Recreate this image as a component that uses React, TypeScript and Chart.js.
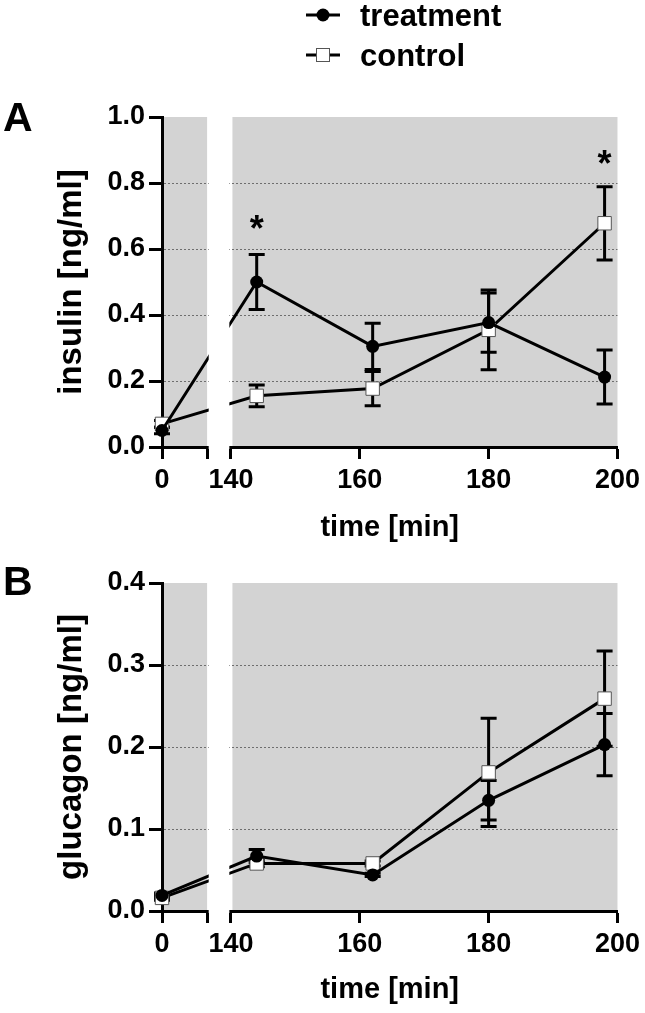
import React, { useEffect, useRef } from 'react';
import { Chart, registerables } from 'chart.js';

Chart.register(...registerables);

// ---------- data ----------
const times = [0, 144, 162, 180, 198];

const insulinTreatment = [0.05, 0.5, 0.305, 0.377, 0.212];
const insulinTreatmentSem = [0.01, 0.083, 0.07, 0.09, 0.082];
const insulinControl = [0.07, 0.155, 0.177, 0.355, 0.678];
const insulinControlSem = [0.01, 0.033, 0.052, 0.121, 0.111];
const insulinStarTimes = [144, 198];
const insulinStarValues = [0.688, 0.885];
const insulinTicks = [0, 0.2, 0.4, 0.6, 0.8, 1.0];

const glucagonTreatment = [0.019, 0.067, 0.044, 0.135, 0.203];
const glucagonTreatmentSem = [0.003, 0.008, 0.002, 0.024, 0.038];
const glucagonControl = [0.016, 0.058, 0.058, 0.169, 0.259];
const glucagonControlSem = [0.003, 0.004, 0.003, 0.066, 0.058];
const glucagonStarTimes: number[] = [];
const glucagonStarValues: number[] = [];
const glucagonTicks = [0, 0.1, 0.2, 0.3, 0.4];

const xTickTimes = [0, 140, 160, 180, 200];
const seriesNames = ['treatment', 'control'];

// ---------- broken axis ----------
const SEG1_END = 7; // first segment covers 0..7 min
const SEG2_START = 140;
const SEG2_END = 200;
const GAP = 3.7;
const toAxis = (t: number) => (t <= SEG1_END ? t : SEG1_END + GAP + (t - SEG2_START));

const FONT = "'Liberation Sans', Arial, Helvetica, sans-serif";
const GREY = '#d3d3d3';

function makeChart(
  canvas: HTMLCanvasElement,
  cfg: {
    height: number;
    top: number;
    bottom: number;
    right: number;
    yMax: number;
    yTicks: number[];
    yTitle: string;
    treat: number[];
    treatSem: number[];
    ctrl: number[];
    ctrlSem: number[];
    starTimes: number[];
    starValues: number[];
    letter: string;
    letterY: number;
    legend: boolean;
    xTitlePad: number;
  }
) {
  const xTickPositions = [toAxis(0), SEG1_END, ...xTickTimes.slice(1).map(toAxis)];
  const xTickLabels = ['0', '', ...xTickTimes.slice(1).map(String)];

  const errorBars = {
    id: 'errorBars',
    beforeDatasetsDraw(chart: any) {
      const ctx = chart.ctx;
      const ys = chart.scales.y;
      ctx.save();
      ctx.strokeStyle = '#000';
      ctx.lineWidth = 3;
      chart.data.datasets.forEach((ds: any, di: number) => {
        const meta = chart.getDatasetMeta(di);
        ds.sem.forEach((s: number, i: number) => {
          const v = ds.data[i].y;
          const px = meta.data[i].x;
          const yTop = ys.getPixelForValue(v + s);
          const yBot = ys.getPixelForValue(v - s);
          ctx.beginPath();
          ctx.moveTo(px, yTop);
          ctx.lineTo(px, yBot);
          ctx.moveTo(px - 8, yTop);
          ctx.lineTo(px + 8, yTop);
          ctx.moveTo(px - 8, yBot);
          ctx.lineTo(px + 8, yBot);
          ctx.stroke();
        });
      });
      ctx.restore();
    },
  };

  const background = {
    id: 'bg',
    beforeDraw(chart: any) {
      const { ctx, chartArea } = chart;
      const xs = chart.scales.x;
      ctx.save();
      ctx.fillStyle = GREY;
      const a0 = xs.getPixelForValue(0);
      const a1 = xs.getPixelForValue(SEG1_END);
      const b0 = xs.getPixelForValue(toAxis(SEG2_START));
      ctx.fillRect(a0, chartArea.top, a1 - a0, chartArea.bottom - chartArea.top);
      ctx.fillRect(b0 + 1.5, chartArea.top, chartArea.right - b0 - 1.5, chartArea.bottom - chartArea.top);
      ctx.restore();
    },
    afterDatasetsDraw(chart: any) {
      const { ctx, chartArea } = chart;
      const xs = chart.scales.x;
      const a1 = xs.getPixelForValue(SEG1_END);
      const b0 = xs.getPixelForValue(toAxis(SEG2_START));
      ctx.save();
      ctx.fillStyle = '#fff';
      ctx.fillRect(a1 + 1.6, chartArea.top - 2, b0 - a1 - 3.2, chartArea.bottom - chartArea.top + 4);
      ctx.restore();
    },
  };

  const annotations = {
    id: 'annotations',
    afterDraw(chart: any) {
      const ctx = chart.ctx;
      const xs = chart.scales.x;
      const ys = chart.scales.y;
      ctx.save();
      ctx.fillStyle = '#000';
      // stars
      ctx.font = `bold 36px ${FONT}`;
      ctx.textAlign = 'center';
      ctx.textBaseline = 'alphabetic';
      cfg.starTimes.forEach((t, i) => {
        const px = xs.getPixelForValue(toAxis(t));
        const py = ys.getPixelForValue(cfg.starValues[i]);
        ctx.fillText('*', px, py + 0.58 * 36);
      });
      // panel letter
      ctx.font = `bold 41px ${FONT}`;
      ctx.textAlign = 'left';
      ctx.fillText(cfg.letter, 3, cfg.letterY);
      // legend
      if (cfg.legend) {
        ctx.font = `bold 31px ${FONT}`;
        ctx.strokeStyle = '#000';
        ctx.lineWidth = 3;
        const rows = [15, 55];
        rows.forEach((ry, i) => {
          ctx.beginPath();
          ctx.moveTo(306, ry);
          ctx.lineTo(340, ry);
          ctx.stroke();
          if (i === 0) {
            ctx.beginPath();
            ctx.arc(323, ry, 6.5, 0, Math.PI * 2);
            ctx.fillStyle = '#000';
            ctx.fill();
          } else {
            ctx.fillStyle = '#fff';
            ctx.fillRect(316.5, ry - 6.5, 13, 13);
            ctx.lineWidth = 1;
            ctx.strokeStyle = '#555';
            ctx.strokeRect(316.5, ry - 6.5, 13, 13);
          }
          ctx.fillStyle = '#000';
          ctx.fillText(seriesNames[i], 360, ry + 11);
        });
      }
      ctx.restore();
    },
  };

  const tickFont = { family: FONT, size: 27, weight: 'bold' as const };

  return new Chart(canvas, {
    type: 'line',
    data: {
      datasets: [
        {
          label: seriesNames[0],
          data: times.map((t, i) => ({ x: toAxis(t), y: cfg.treat[i] })),
          sem: cfg.treatSem,
          borderColor: '#000',
          borderWidth: 3,
          pointStyle: 'circle',
          pointRadius: 6.5,
          pointBackgroundColor: '#000',
          pointBorderColor: '#000',
          pointBorderWidth: 0,
          clip: false,
          tension: 0,
        } as any,
        {
          label: seriesNames[1],
          data: times.map((t, i) => ({ x: toAxis(t), y: cfg.ctrl[i] })),
          sem: cfg.ctrlSem,
          borderColor: '#000',
          borderWidth: 3,
          pointStyle: 'rect',
          pointRadius: 9.5,
          pointBackgroundColor: '#fff',
          pointBorderColor: '#555',
          pointBorderWidth: 1,
          clip: false,
          tension: 0,
        } as any,
      ],
    },
    options: {
      animation: false,
      responsive: false,
      maintainAspectRatio: false,
      events: [],
      layout: { padding: { left: 0, top: cfg.top, right: cfg.right, bottom: 0 } },
      plugins: { legend: { display: false }, tooltip: { enabled: false } },
      scales: {
        x: {
          type: 'linear',
          min: 0,
          max: toAxis(SEG2_END),
          afterBuildTicks: (s: any) => {
            s.ticks = xTickPositions.map((v) => ({ value: v }));
          },
          afterFit: (s: any) => {
            s.height = cfg.height - cfg.bottom;
          },
          ticks: {
            autoSkip: false,
            maxRotation: 0,
            color: '#000',
            font: tickFont,
            padding: 5,
            callback: (_v: any, i: number) => xTickLabels[i],
          },
          grid: {
            drawOnChartArea: false,
            drawTicks: true,
            tickLength: 12,
            tickWidth: 3,
            tickColor: '#000',
          },
          border: { display: true, color: '#000', width: 3 },
          title: {
            display: true,
            text: 'time [min]',
            color: '#000',
            font: { family: FONT, size: 29, weight: 'bold' },
            padding: { top: 0, bottom: cfg.xTitlePad },
          },
        },
        y: {
          type: 'linear',
          min: 0,
          max: cfg.yMax,
          afterBuildTicks: (s: any) => {
            s.ticks = cfg.yTicks.map((v) => ({ value: v }));
          },
          afterFit: (s: any) => {
            s.width = 162;
          },
          ticks: {
            color: '#000',
            font: tickFont,
            padding: 4,
            callback: (v: any) => Number(v).toFixed(1),
          },
          grid: {
            drawOnChartArea: true,
            color: (c: any) =>
              !c.tick || c.tick.value === 0 || Math.abs(c.tick.value - cfg.yMax) < 1e-9
                ? 'rgba(0,0,0,0)'
                : '#6e6e6e',
            lineWidth: 1,
            tickColor: '#000',
            tickWidth: 3,
            tickLength: 13,
          },
          border: { display: true, color: '#000', width: 3, dash: [2, 2] },
          title: {
            display: true,
            text: cfg.yTitle,
            color: '#000',
            font: { family: FONT, size: 33, weight: 'bold' },
            padding: { top: 52, bottom: 0 },
          },
        },
      },
    } as any,
    plugins: [background, errorBars, annotations],
  });
}

export default function App() {
  const refA = useRef<HTMLCanvasElement>(null);
  const refB = useRef<HTMLCanvasElement>(null);

  useEffect(() => {
    const a = makeChart(refA.current!, {
      height: 545,
      top: 117,
      bottom: 447,
      right: 25,
      yMax: 1.0,
      yTicks: insulinTicks,
      yTitle: 'insulin [ng/ml]',
      treat: insulinTreatment,
      treatSem: insulinTreatmentSem,
      ctrl: insulinControl,
      ctrlSem: insulinControlSem,
      starTimes: insulinStarTimes,
      starValues: insulinStarValues,
      letter: 'A',
      letterY: 131,
      legend: true,
      xTitlePad: 0,
    });
    const b = makeChart(refB.current!, {
      height: 468,
      top: 38,
      bottom: 366,
      right: 27,
      yMax: 0.4,
      yTicks: glucagonTicks,
      yTitle: 'glucagon [ng/ml]',
      treat: glucagonTreatment,
      treatSem: glucagonTreatmentSem,
      ctrl: glucagonControl,
      ctrlSem: glucagonControlSem,
      starTimes: glucagonStarTimes,
      starValues: glucagonStarValues,
      letter: 'B',
      letterY: 50,
      legend: false,
      xTitlePad: 6,
    });
    return () => {
      a.destroy();
      b.destroy();
    };
  }, []);

  return (
    <div style={{ position: 'absolute', left: 0, top: 0, width: 645, height: 1013, background: '#fff' }}>
      <canvas ref={refA} width={645} height={545} style={{ display: 'block', width: 645, height: 545 }} />
      <canvas ref={refB} width={645} height={468} style={{ display: 'block', width: 645, height: 468 }} />
    </div>
  );
}
